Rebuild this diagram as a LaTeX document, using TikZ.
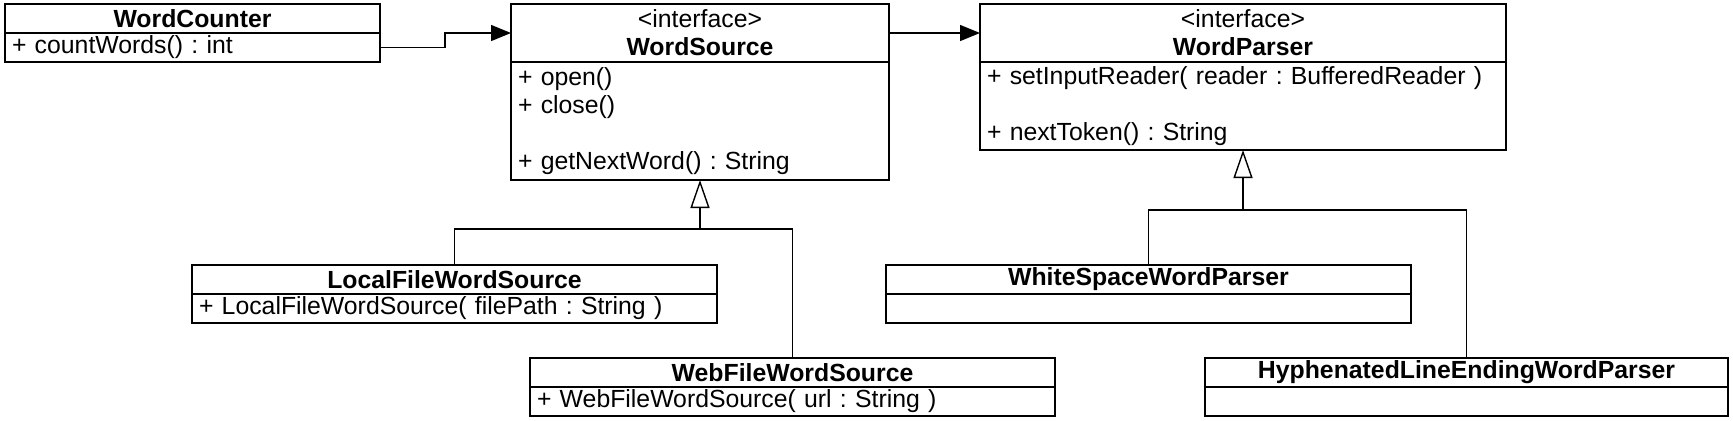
\documentclass[tikz,border=0pt]{standalone}
\usepackage{fontspec}
\setmainfont{Liberation Sans}
\usepackage{tikz}
\usetikzlibrary{positioning}
\usetikzlibrary{arrows.meta}

\begin{document}
\frenchspacing
\begin{tikzpicture}[x=1pt,y=1pt,line width=0.7pt,
   font=\fontsize{12.4}{14}\selectfont,
   head/.style={draw,rectangle,anchor=north west,align=center,inner xsep=3.5pt,inner ysep=0pt,outer sep=0pt,minimum height=14.5pt,font=\fontsize{12.4}{14}\selectfont\bfseries},
   body/.style={draw,rectangle,align=left,inner xsep=3.5pt,inner ysep=0pt,outer sep=0pt,minimum height=14.5pt},
   assoc/.style={-{Triangle[length=10pt,width=8pt]}},
   gen/.style={-{Triangle[open,length=14pt,width=9.5pt]}}]
   \useasboundingbox (0,0) rectangle (866.5,-210);
   % classes
   \node[head,text width=180.5pt] (wchead) at (2.5,-2) {WordCounter};
   \node[body,text width=180.5pt] (wcbody) [below=0pt of wchead] {+ countWords() : int};
   \node[head,text width=182pt,minimum height=29pt] (wshead) at (255.5,-2) {{\mdseries <interface>}\\WordSource};
   \node[body,text width=182pt,minimum height=59pt] (wsbody) [below=0pt of wshead] {+ open()\\+ close()\\[14pt]+ getNextWord() : String};
   \node[head,text width=256pt,minimum height=29pt] (wphead) at (490,-2) {{\mdseries <interface>}\\WordParser};
   \node[body,text width=256pt,minimum height=44pt] (wpbody) [below=0pt of wphead] {+ setInputReader( reader : BufferedReader )\\[14pt]+ nextToken() : String};
   \node[head,text width=255.5pt] (lfhead) at (96,-132.5) {LocalFileWordSource};
   \node[body,text width=255.5pt] (lfbody) [below=0pt of lfhead] {+ LocalFileWordSource( filePath : String )};
   \node[head,text width=255.5pt] (webhead) at (265,-179) {WebFileWordSource};
   \node[body,text width=255.5pt] (webbody) [below=0pt of webhead] {+ WebFileWordSource( url : String )};
   \node[head,text width=255.5pt] (whhead) at (443,-132.5) {WhiteSpaceWordParser};
   \node[body,text width=255.5pt] (whbody) [below=0pt of whhead] {};
   \node[head,text width=254.5pt] (hyhead) at (602.5,-179) {HyphenatedLineEndingWordParser};
   \node[body,text width=254.5pt] (hybody) [below=0pt of hyhead] {};
   % associations
   \draw[assoc] (wcbody.east) -- ++(32.5,0) |- (wshead.west);
   \draw[assoc] (wshead.east) -- (wphead.west);
   % generalizations
   \coordinate[below=24.5pt of wsbody.south] (wsfork);
   \draw[gen] (lfhead.north) |- (wsfork) -- (wsbody.south);
   \draw (webhead.north) |- (wsfork);
   \coordinate[below=30pt of wpbody.south] (wpfork);
   \draw[gen] (whhead.north) |- (wpfork) -- (wpbody.south);
   \draw (hyhead.north) |- (wpfork);
\end{tikzpicture}
\end{document}
